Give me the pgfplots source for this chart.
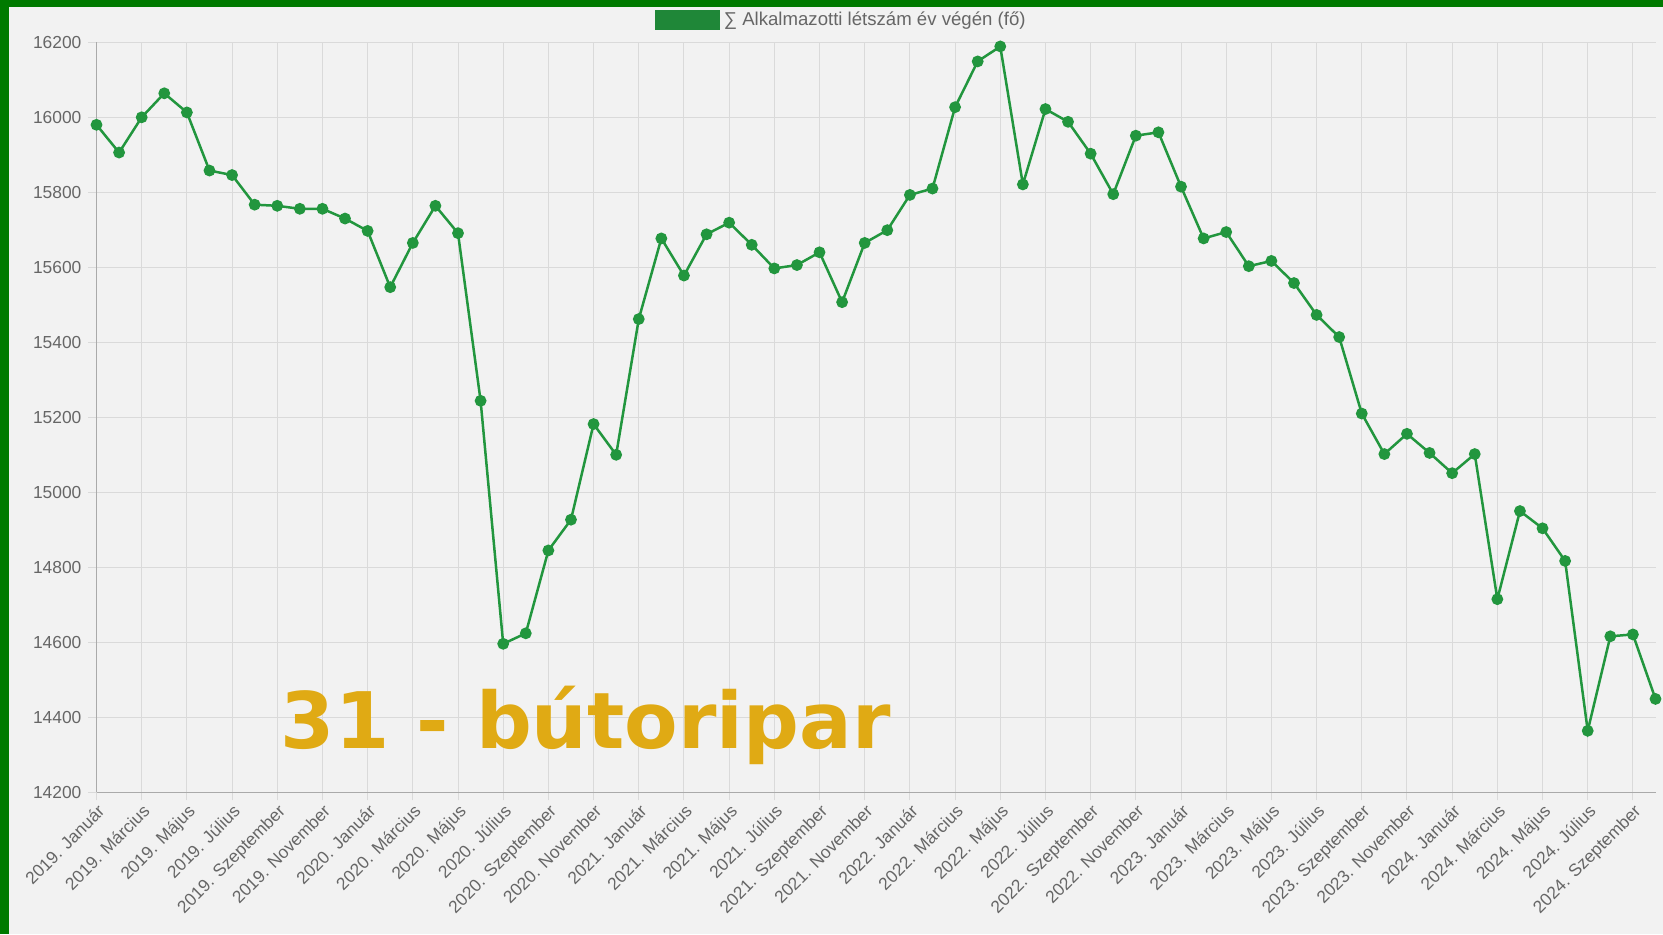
\documentclass[border=0pt]{standalone}
\usepackage{fontspec}
\setmainfont{Liberation Sans}
\newfontfamily\titlefont{DejaVu Sans}
\usepackage{pgfplots}
\pgfplotsset{compat=1.18}
\definecolor{bgc}{RGB}{242,242,242}
\definecolor{frame}{RGB}{0,122,0}
\definecolor{linec}{RGB}{34,150,62}
\definecolor{gold}{RGB}{224,170,20}
\definecolor{tickc}{RGB}{102,102,102}
\definecolor{gridc}{RGB}{218,218,218}
\definecolor{axc}{RGB}{170,170,170}
\begin{document}
\begin{tikzpicture}
\path[use as bounding box, fill=bgc] (0,0) rectangle (831.5pt,467pt);
\begin{axis}[
  at={(48.25pt,70.85pt)}, anchor=south west,
  scale only axis, width=779.5pt, height=375pt,
  xmin=0, xmax=69, ymin=14200, ymax=16200,
  ytick={14200,14400,...,16200},
  scaled y ticks=false,
  xtick={0,2,...,68},
  xticklabels={2019. Január,2019. Március,2019. Május,2019. Július,2019. Szeptember,2019. November,
  2020. Január,2020. Március,2020. Május,2020. Július,2020. Szeptember,2020. November,
  2021. Január,2021. Március,2021. Május,2021. Július,2021. Szeptember,2021. November,
  2022. Január,2022. Március,2022. Május,2022. Július,2022. Szeptember,2022. November,
  2023. Január,2023. Március,2023. Május,2023. Július,2023. Szeptember,2023. November,
  2024. Január,2024. Március,2024. Május,2024. Július,2024. Szeptember},
  x tick label style={rotate=45, anchor=north east, font=\fontsize{8.7}{9}\selectfont, text=tickc, inner sep=1pt},
  y tick label style={font=\fontsize{8.7}{9}\selectfont, text=tickc},
  /pgf/number format/assume math mode=true,
  /pgf/number format/set thousands separator={},
  grid=major, major grid style={gridc, line width=0.5pt},
  tick align=outside, major tick length=4pt,
  tick style={gridc, line width=0.5pt},
  axis x line*=bottom, axis y line*=left,
  x axis line style={axc, -}, y axis line style={axc, -},
  clip=false,
  legend style={at={(0.4785,1.03)}, anchor=center, draw=none, fill=none,
    font=\fontsize{9.3}{10}\selectfont, text=tickc, inner sep=0pt},
  legend image code/.code={\fill[linec!90!black] (-0.25cm-3pt,-4.5pt) rectangle (28pt-0.25cm,4.5pt);},
]
\addplot[linec, line width=1.25pt, mark=*, mark size=2.3pt, mark options={fill=linec, draw=linec}] coordinates {
(0,15980)(1,15906)(2,16000)(3,16064)(4,16013)(5,15858)(6,15846)(7,15767)(8,15764)(9,15756)
(10,15756)(11,15730)(12,15697)(13,15547)(14,15665)(15,15764)(16,15691)(17,15244)(18,14596)(19,14624)
(20,14845)(21,14927)(22,15182)(23,15100)(24,15462)(25,15677)(26,15578)(27,15688)(28,15719)(29,15660)
(30,15597)(31,15606)(32,15640)(33,15507)(34,15665)(35,15699)(36,15793)(37,15810)(38,16027)(39,16149)
(40,16189)(41,15821)(42,16022)(43,15988)(44,15903)(45,15795)(46,15951)(47,15960)(48,15815)(49,15677)
(50,15694)(51,15603)(52,15617)(53,15558)(54,15473)(55,15414)(56,15210)(57,15102)(58,15156)(59,15105)
(60,15051)(61,15102)(62,14715)(63,14950)(64,14904)(65,14817)(66,14364)(67,14616)(68,14621)(69,14449)
};
\addlegendentry{∑ Alkalmazotti létszám év végén (fő)}
\node[anchor=base west, inner sep=0pt, text=gold, font=\titlefont\bfseries\fontsize{39}{40}\selectfont] at (rel axis cs:0.118,0.059) {31 - bútoripar};
\end{axis}
\fill[frame] (0,0) rectangle (4.5pt,467pt);
\fill[frame] (0,463.3pt) rectangle (831.5pt,467pt);
\end{tikzpicture}
\end{document}
